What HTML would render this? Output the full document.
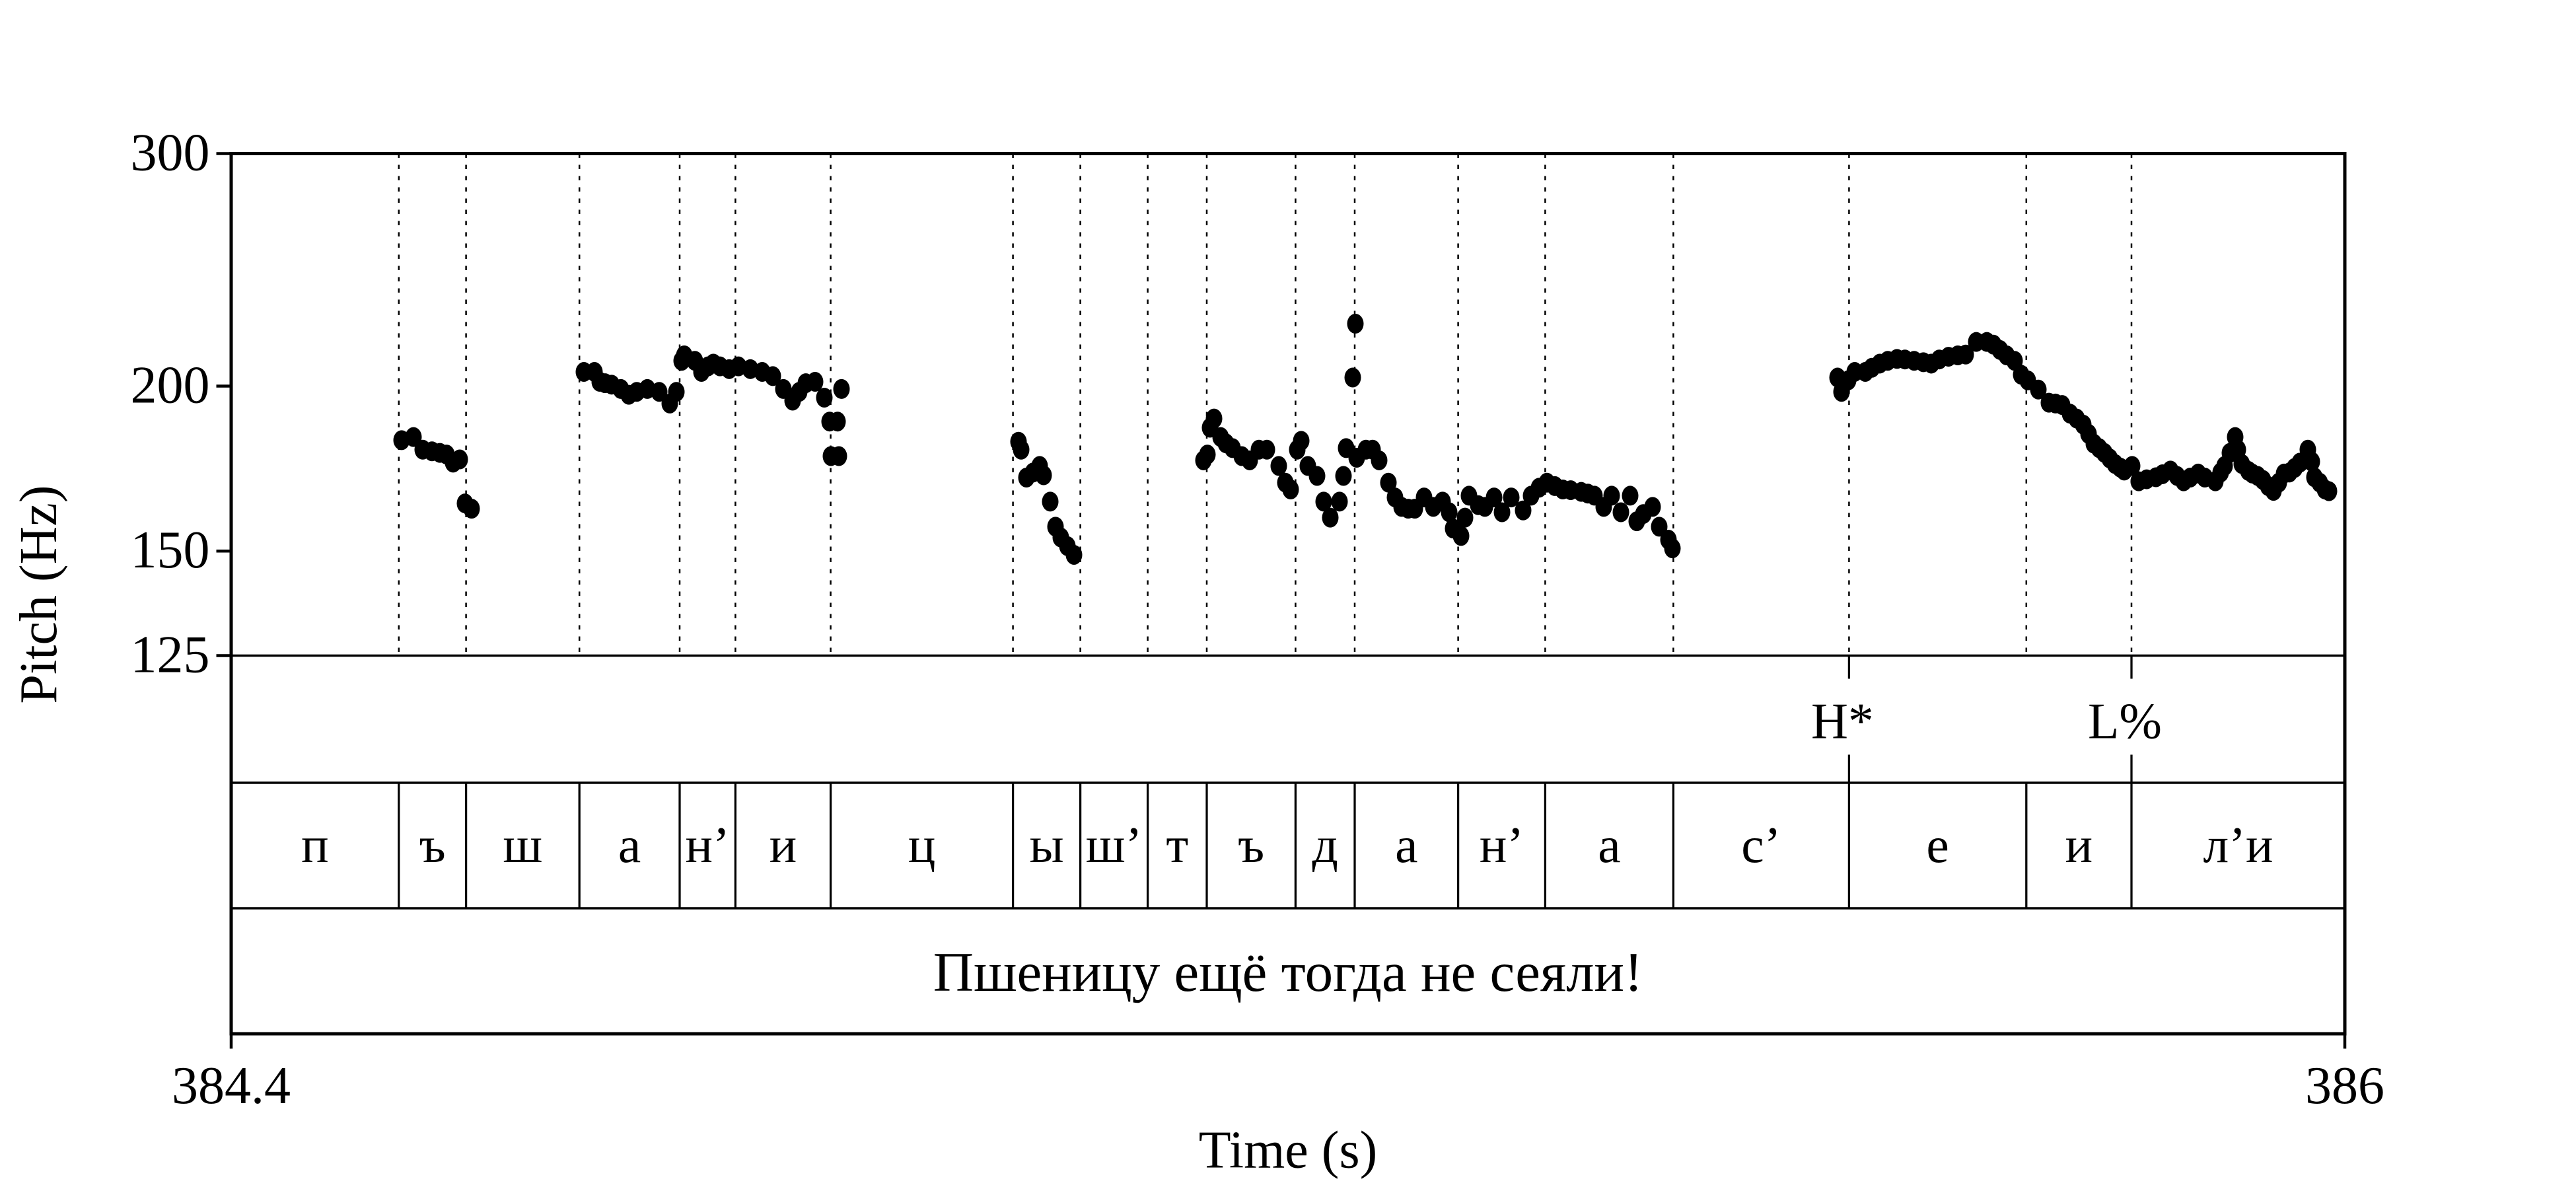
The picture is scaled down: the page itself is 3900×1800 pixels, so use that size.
<!DOCTYPE html>
<html><head><meta charset="utf-8"><style>
html,body{margin:0;padding:0;background:#fff;}
svg{display:block;}
text{font-family:"Liberation Serif","Noto Serif CJK SC",serif;fill:#000;}
</style></head><body>
<svg id="chart" width="3900" height="1800" viewBox="0 0 1560 720" xmlns="http://www.w3.org/2000/svg">
<g id="grid"></g>
<g id="dots"></g>
<g id="tiers"></g>
<g id="axes"></g>
</svg>
<script>
const times = [384.529,384.538,384.545,384.552,384.558,384.563,384.568,384.573,384.577,384.582,
384.667,384.675,384.679,384.683,384.688,384.695,384.701,384.707,384.715,384.724,384.732,384.737,
384.741,384.743,384.751,384.756,384.761,384.765,384.770,384.777,384.784,384.793,384.802,384.810,384.818,384.825,384.830,384.835,384.842,384.849,384.853,384.854,384.859,384.860,384.862,
384.996,384.998,385.002,385.007,385.012,385.015,385.020,385.024,385.028,385.033,385.038,
385.136,385.139,385.141,385.144,385.149,385.153,385.158,385.165,385.171,385.178,385.184,385.193,385.198,385.202,385.207,385.210,385.215,385.222,385.227,385.232,385.239,385.242,385.244,385.249,385.251,385.252,385.259,385.264,385.269,385.276,385.281,385.286,385.291,385.296,385.303,385.310,385.317,385.322,385.325,385.331,385.334,385.337,385.344,385.349,385.356,385.362,385.369,385.378,385.384,385.390,385.396,385.402,385.408,385.414,385.422,385.427,385.432,385.439,385.445,385.452,385.459,385.464,385.469,385.476,385.481,385.488,385.491,
385.616,385.619,385.624,385.629,385.637,385.642,385.648,385.654,385.661,385.667,385.674,385.681,385.687,385.693,385.700,385.707,385.713,385.721,385.729,385.734,385.739,385.744,385.750,385.755,385.760,385.768,385.776,385.781,385.786,385.792,385.797,385.802,385.806,385.810,385.814,385.818,385.822,385.826,385.830,385.833,385.839,385.844,385.850,385.857,385.862,385.868,385.873,385.878,385.883,385.889,385.894,385.902,385.906,385.909,385.913,385.917,385.919,385.922,385.927,385.930,385.934,385.938,385.942,385.946,385.950,385.954,385.958,385.962,385.966,385.972,385.975,385.977,385.981,385.985,385.988];
const pitchHz = [182,183,179,178.5,178,177.5,175,176,163,161.5,
205,205,201.5,201,200.5,199,197,198,199,198,194,198,
209,211,209,205,207,208,207,206,207,206,205,203.5,199,195,198,201,201.5,196,188,177,188,177,199,
181.5,179,170.5,172,174,171.2,163.5,156.5,153.6,151.3,149,
175.7,177.5,186,189,183,181,179.5,177,175.7,179,179,174,169,167,179,181.8,174,171,163.5,159,163.5,171,179.5,203,223,176.5,179,179,175.7,169,164.7,162,161.5,161.5,164.7,162,163.5,160.5,156,154,159,165.2,162.5,162,164.7,160.5,164.7,161,165.2,167.5,169,168,167,166.8,166.3,165.8,165.2,162,165.2,160.5,165.2,158,160,162,156.5,153,150.7,
203,198,202,205,205,206.5,208,209,209.7,209.5,209,208.5,208,209.5,210.5,211,211.3,216,216,215,213,211,209,204,202,198.8,194.3,194,193.5,190.6,189,187,184,180.9,179.5,178,176.3,174.6,173.5,172.6,174,169.4,170,170.6,171.5,172.6,171,169.4,170.5,171.7,170.5,169.4,172,174,178,183,179,174.6,172.5,171.7,171,169.8,168,166.6,169,171.7,172,173.4,175,179,175.3,170.6,169,167,166.5];
const boundaries = [384.5269,384.5778,384.6636,384.7395,384.7817,384.8538,384.9918,385.0428,385.0938,385.1385,385.2057,385.2505,385.3288,385.3947,385.4917,385.6247,385.7589,385.8385];
const phones = ["п","ъ","ш","а","н’","и","ц","ы","ш’","т","ъ","д","а","н’","а","с’","е","и","л’и"];
const tones = [385.6247,385.8385];
const toneLabels = ["H*","L%"];
const yTicks = [300,200,150,125];
const xTicks = [384.4,386];
const xTickLabels = ["384.4","386"];
const sentence = "Пшеницу ещё тогда не сеяли!";

const NS="http://www.w3.org/2000/svg";
const X0=140,X1=1420,Y0=93,Y1=397,T0=384.4,T1=386,F0=125,F1=300;
const TA=474,TB=550,BOT=626;
const xs=t=>X0+(t-T0)/(T1-T0)*(X1-X0);
const ys=f=>Y0+Math.log(F1/f)/Math.log(F1/F0)*(Y1-Y0);
function mk(tag,attrs,parent){const e=document.createElementNS(NS,tag);for(const k in attrs)e.setAttribute(k,attrs[k]);parent.appendChild(e);return e;}
const grid=document.getElementById('grid'),dots=document.getElementById('dots'),tiers=document.getElementById('tiers'),axes=document.getElementById('axes');

boundaries.forEach((b,i)=>{
  const l=mk('line',{x1:xs(b),x2:xs(b),y1:Y0,y2:Y1,stroke:'#000','stroke-width':1,'stroke-dasharray':'2.6 4.2'},grid);
  
  
  const s=mk('line',{x1:xs(b),x2:xs(b),y1:TA,y2:TB,stroke:'#000','stroke-width':1.3},tiers);
  
  
});
times.forEach((t,i)=>{
  const c=mk('ellipse',{cx:xs(t),cy:ys(pitchHz[i]),rx:5,ry:6,fill:'#000'},dots);
  
  
});
const edges=[T0].concat(boundaries,[T1]);
phones.forEach((p,i)=>{
  const tx=mk('text',{x:(xs(edges[i])+xs(edges[i+1]))/2,y:522,'font-size':31,'text-anchor':'middle'},tiers);
  tx.textContent=p;
  
  
});
tones.forEach((t,i)=>{
  const a=mk('line',{x1:xs(t),x2:xs(t),y1:Y1,y2:411,stroke:'#000','stroke-width':1.3},tiers);
  
  
  const b=mk('line',{x1:xs(t),x2:xs(t),y1:457,y2:TA,stroke:'#000','stroke-width':1.3},tiers);
  
  
  const tx=mk('text',{x:xs(t)-4,y:447,'font-size':31,'text-anchor':'middle'},tiers);
  tx.textContent=toneLabels[i];
  
  
});
const st=mk('text',{x:(X0+X1)/2,y:600,'font-size':34,'text-anchor':'middle'},tiers);
st.textContent=sentence;



[Y1,TA,TB].forEach(y=>{
  const l=mk('line',{x1:X0,x2:X1,y1:y,y2:y,stroke:'#000','stroke-width':1.4},axes);
  
  
});
const fr=mk('rect',{x:X0,y:Y0,width:X1-X0,height:BOT-Y0,fill:'none',stroke:'#000','stroke-width':2},axes);


yTicks.forEach(v=>{
  const l=mk('line',{x1:131,x2:X0,y1:ys(v),y2:ys(v),stroke:'#000','stroke-width':1.8},axes);
  
  
  const tx=mk('text',{x:127,y:ys(v)+10,'font-size':32,'text-anchor':'end'},axes);
  tx.textContent=String(v);
  
  
});
xTicks.forEach((v,i)=>{
  const l=mk('line',{x1:xs(v),x2:xs(v),y1:BOT,y2:BOT+9,stroke:'#000','stroke-width':1.8},axes);
  
  
  const tx=mk('text',{x:xs(v),y:668,'font-size':32,'text-anchor':'middle'},axes);
  tx.textContent=xTickLabels[i];
  
  
});
const xt=mk('text',{x:(X0+X1)/2,y:707,'font-size':32,'text-anchor':'middle'},axes);
xt.textContent='Time (s)';


const yt=mk('text',{x:0,y:0,'font-size':32,'text-anchor':'middle',transform:'translate(34,360) rotate(-90)'},axes);
yt.textContent='Pitch (Hz)';


</script>
</body></html>
